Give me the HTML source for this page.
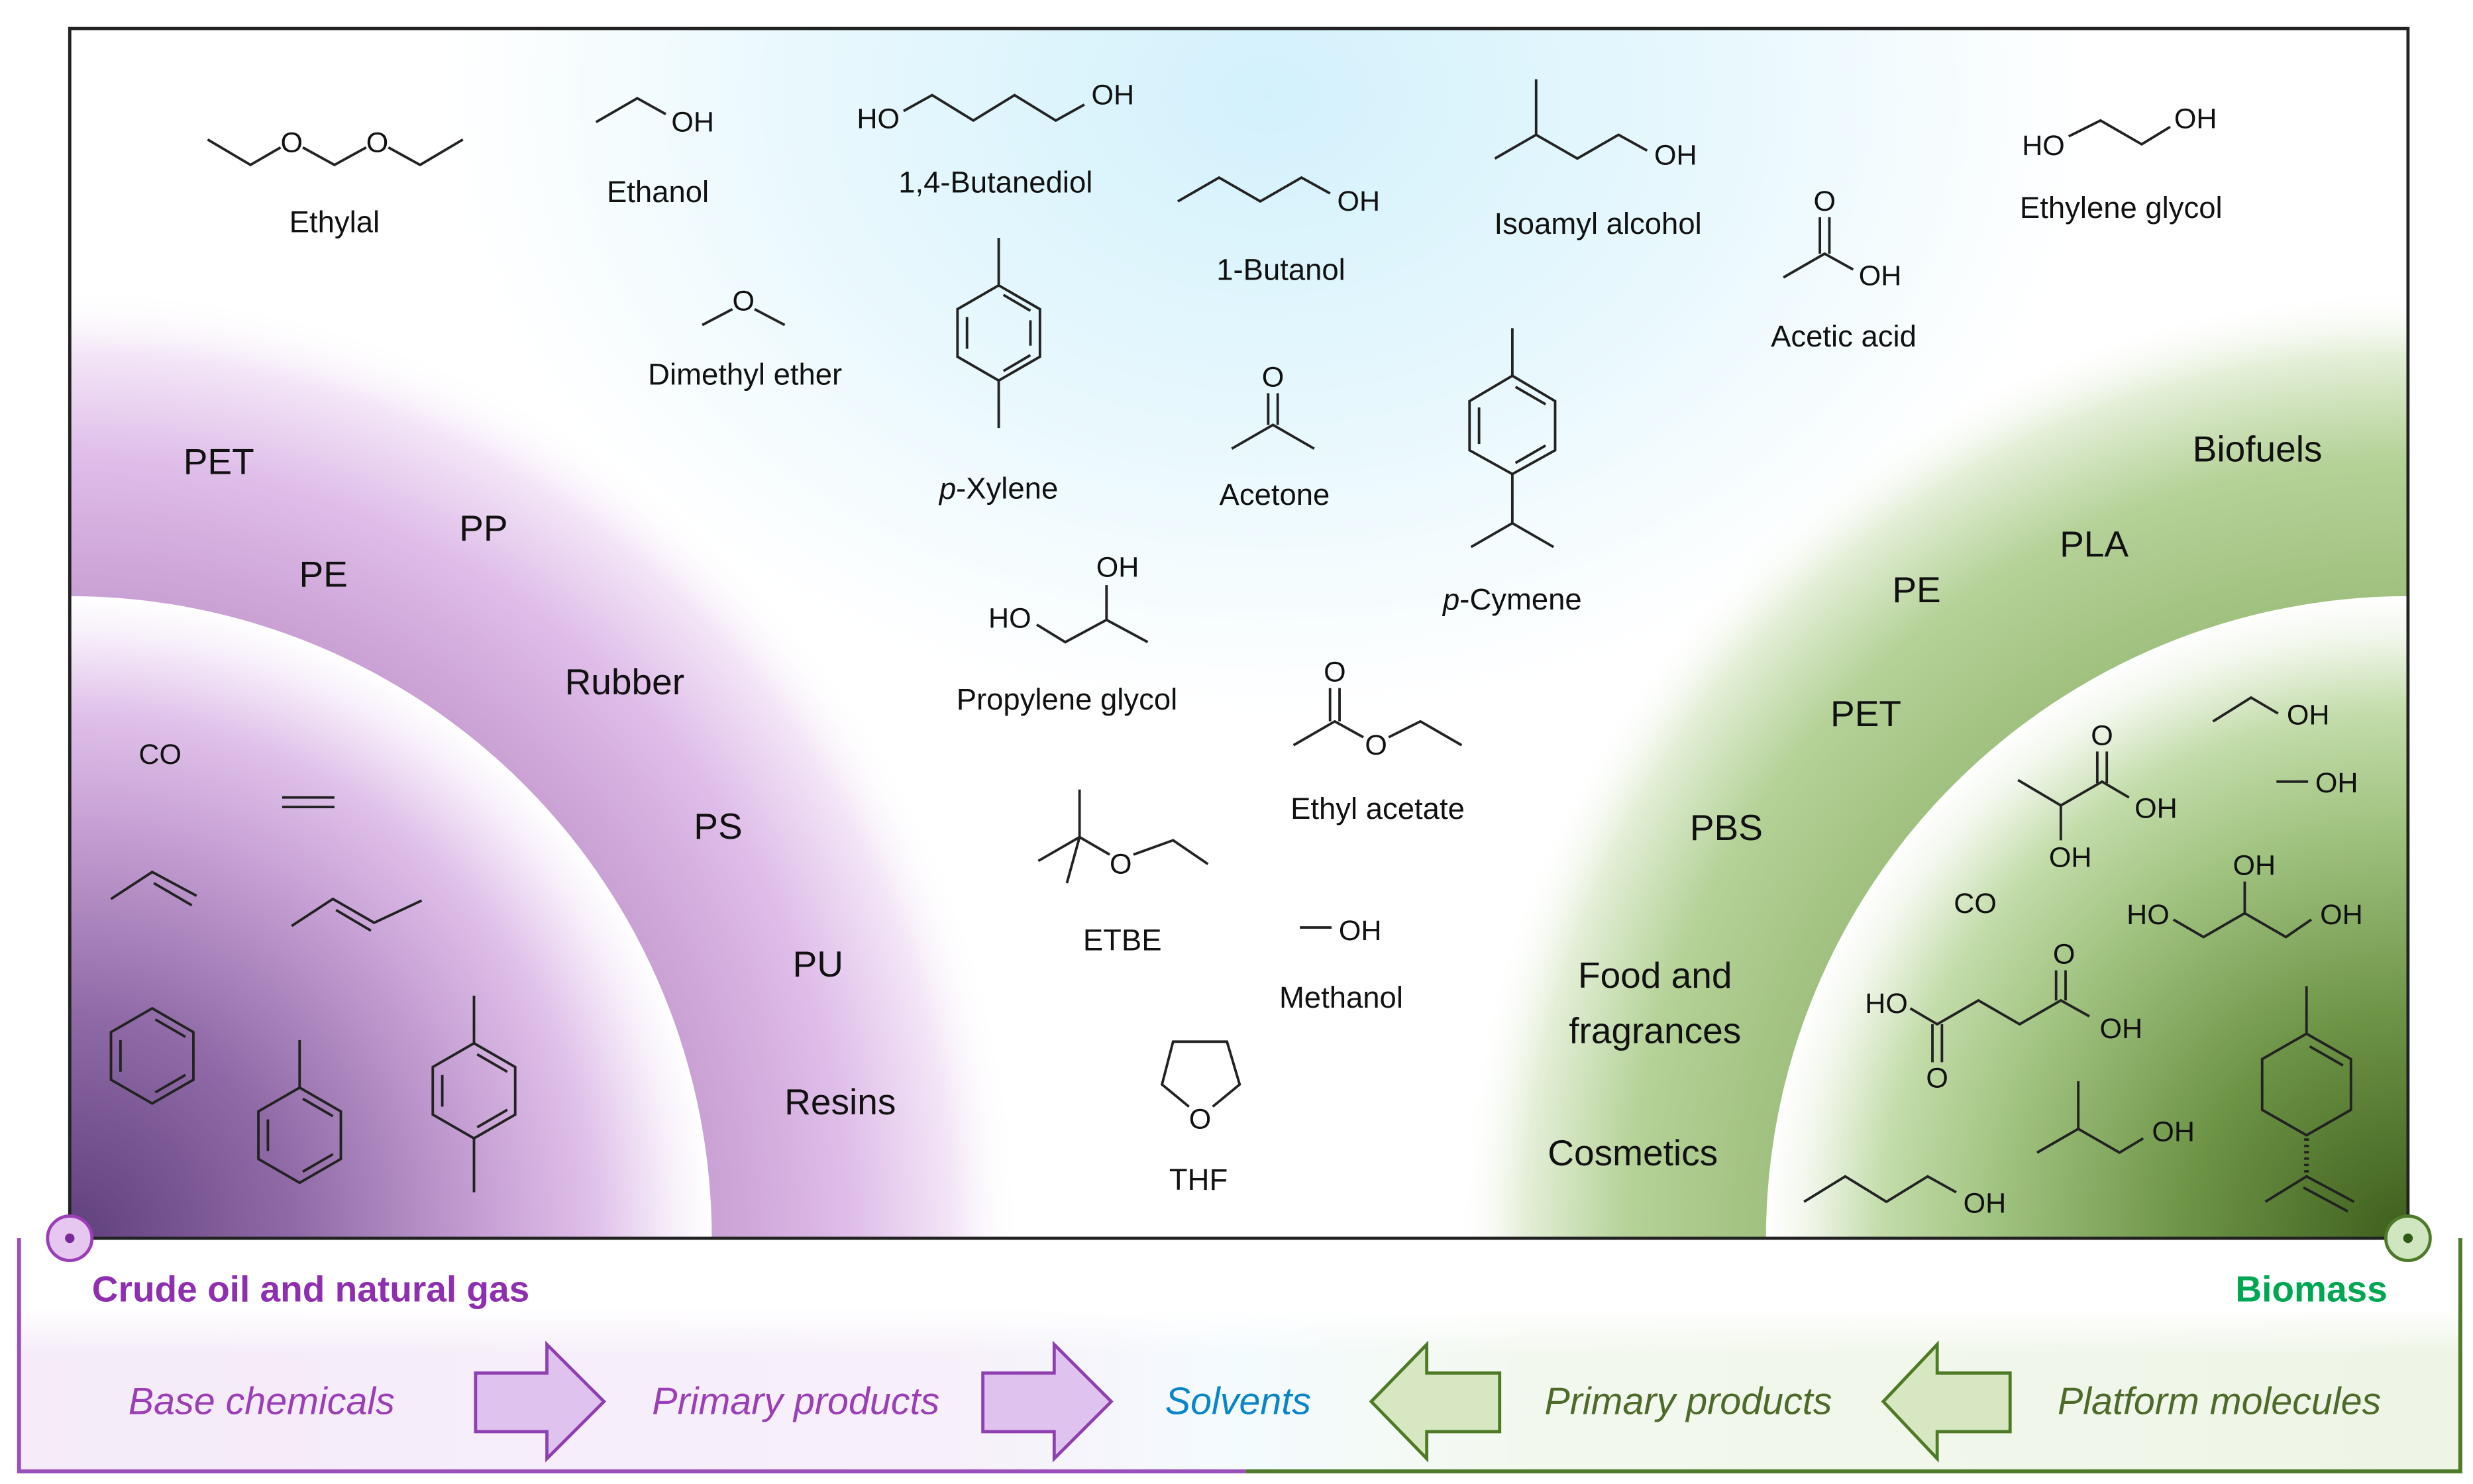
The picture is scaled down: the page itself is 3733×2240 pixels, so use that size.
<!DOCTYPE html>
<html><head><meta charset="utf-8"><style>
html,body{margin:0;padding:0;background:#fff;width:3733px;height:2240px;overflow:hidden;}
svg{display:block;position:absolute;left:0;top:0;}
text{font-family:"Liberation Sans",sans-serif;dominant-baseline:central;text-anchor:middle;fill:#111;}
.l{font-size:19px;}
.p{font-size:23px;}
.a{font-size:18px;}
.m{fill:none;stroke:#222;stroke-width:1.6;}
</style></head><body>
<svg width="3733" height="2240" viewBox="0 0 1560 936" preserveAspectRatio="none" xmlns="http://www.w3.org/2000/svg">
<defs>
<clipPath id="cf"><rect x="44" y="18" width="1475" height="763"/></clipPath>
<radialGradient id="blue" cx="800" cy="60" r="520" gradientUnits="userSpaceOnUse" gradientTransform="translate(800 60) scale(1 0.75) translate(-800 -60)">
<stop offset="0" stop-color="#d3f1fc"/><stop offset="0.55" stop-color="#e8f8fd"/><stop offset="1" stop-color="#fff"/></radialGradient>
<radialGradient id="po" cx="44" cy="781" r="600" gradientUnits="userSpaceOnUse">
<stop offset="0.67" stop-color="#c9a0d3"/><stop offset="0.82" stop-color="#dfbde9"/><stop offset="0.93" stop-color="#f3e6f7"/><stop offset="1" stop-color="#fff" stop-opacity="0"/></radialGradient>
<radialGradient id="pi" cx="44" cy="781" r="405" gradientUnits="userSpaceOnUse">
<stop offset="0" stop-color="#5f3f7c"/><stop offset="0.35" stop-color="#8f6aa6"/><stop offset="0.65" stop-color="#c7a1d5"/><stop offset="0.82" stop-color="#e0c1ea"/><stop offset="0.94" stop-color="#f7effa"/><stop offset="1" stop-color="#fff"/></radialGradient>
<radialGradient id="go" cx="1519" cy="781" r="600" gradientUnits="userSpaceOnUse">
<stop offset="0.67" stop-color="#9fc07e"/><stop offset="0.82" stop-color="#b5d298"/><stop offset="0.93" stop-color="#e4efd8"/><stop offset="1" stop-color="#fff" stop-opacity="0"/></radialGradient>
<radialGradient id="gi" cx="1519" cy="781" r="405" gradientUnits="userSpaceOnUse">
<stop offset="0" stop-color="#3d5e1c"/><stop offset="0.35" stop-color="#6d9446"/><stop offset="0.65" stop-color="#a2c482"/><stop offset="0.82" stop-color="#c3dcaa"/><stop offset="0.94" stop-color="#f2f7ec"/><stop offset="1" stop-color="#fff"/></radialGradient>
<linearGradient id="bot" x1="0" y1="0" x2="1" y2="0">
<stop offset="0" stop-color="#f5ebf9"/><stop offset="0.38" stop-color="#f7f0fa"/><stop offset="0.5" stop-color="#f4fbfe"/><stop offset="0.62" stop-color="#f3f8ee"/><stop offset="1" stop-color="#eef5e6"/></linearGradient>
<linearGradient id="botv" x1="0" y1="0" x2="0" y2="1">
<stop offset="0" stop-color="#fff"/><stop offset="0.3" stop-color="#fff"/><stop offset="0.5" stop-color="#fff" stop-opacity="0"/></linearGradient>
</defs>

<rect x="12" y="781" width="1540" height="147" fill="url(#bot)"/>
<rect x="12" y="781" width="1540" height="147" fill="url(#botv)"/>
<path d="M12 781 V928 H786" fill="none" stroke="#9a50b8" stroke-width="2.5"/>
<path d="M786 928 H1552 V781" fill="none" stroke="#4f7a2a" stroke-width="2.5"/>

<g clip-path="url(#cf)">
<rect x="44" y="18" width="1475" height="763" fill="#fff"/>
<rect x="44" y="18" width="1475" height="763" fill="url(#blue)"/>
<circle cx="44" cy="781" r="600" fill="url(#po)"/>
<circle cx="44" cy="781" r="405" fill="url(#pi)"/>
<circle cx="1519" cy="781" r="600" fill="url(#go)"/>
<circle cx="1519" cy="781" r="405" fill="url(#gi)"/>
</g>
<rect x="44" y="18" width="1475" height="763" fill="none" stroke="#222" stroke-width="2"/>

<circle cx="44" cy="781" r="14" fill="#e6c7f0" stroke="#9a3fb5" stroke-width="2"/>
<circle cx="44" cy="781" r="3" fill="#7a2a98"/>
<circle cx="1519" cy="781" r="14" fill="#cfe6c0" stroke="#4f7a2a" stroke-width="2"/>
<circle cx="1519" cy="781" r="3" fill="#2e5a14"/>

<g fill="#e0c2ee" stroke="#8e3fb0" stroke-width="2">
<path d="M300 866 H345 V848 L381 884 L345 920 V903 H300 Z"/>
<path d="M620 866 H665 V848 L701 884 L665 920 V903 H620 Z"/>
</g>
<g fill="#d6e7c2" stroke="#4e7a26" stroke-width="2">
<path d="M946 866 H900 V848 L865 884 L900 920 V903 H946 Z"/>
<path d="M1268 866 H1222 V848 L1188 884 L1222 920 V903 H1268 Z"/>
</g>

<text x="58" y="813" style="text-anchor:start;font-size:23px;font-weight:bold;fill:#8e2fb0">Crude oil and natural gas</text>
<text x="1506" y="813" style="text-anchor:end;font-size:23px;font-weight:bold;fill:#00a651">Biomass</text>
<g style="font-size:24px;font-style:italic">
<text x="165" y="884" style="fill:#9a3fb5">Base chemicals</text>
<text x="502" y="884" style="fill:#9a3fb5">Primary products</text>
<text x="781" y="884" style="fill:#0a86c8">Solvents</text>
<text x="1065" y="884" style="fill:#4e6a2a">Primary products</text>
<text x="1400" y="884" style="fill:#4e6a2a">Platform molecules</text>
</g>

<g>
<text class="p" x="138" y="291">PET</text>
<text class="p" x="305" y="333">PP</text>
<text class="p" x="204" y="362">PE</text>
<text class="p" x="394" y="430">Rubber</text>
<text class="p" x="453" y="521">PS</text>
<text class="p" x="516" y="608">PU</text>
<text class="p" x="530" y="695">Resins</text>
<text class="p" x="1424" y="283">Biofuels</text>
<text class="p" x="1321" y="343">PLA</text>
<text class="p" x="1209" y="372">PE</text>
<text class="p" x="1177" y="450">PET</text>
<text class="p" x="1089" y="522">PBS</text>
<text class="p" x="1044" y="615">Food and</text>
<text class="p" x="1044" y="650">fragrances</text>
<text class="p" x="1030" y="727">Cosmetics</text>
</g>

<polyline class="m" points="131,88 158,104 177,93"/><text class="a" x="184" y="90">O</text>
<polyline class="m" points="191,93 211,104 231,93"/><text class="a" x="238" y="90">O</text>
<polyline class="m" points="245,93 265,104 292,88"/>
<text class="l" x="211" y="140">Ethylal</text>

<polyline class="m" points="376,77 402,62 420,72"/><text class="a" x="437" y="77">OH</text>
<text class="l" x="415" y="121">Ethanol</text>

<text class="a" x="554" y="75">HO</text>
<polyline class="m" points="570,70 588,60 614,76 640,60 666,76 684,66"/><text class="a" x="702" y="60">OH</text>
<text class="l" x="628" y="115">1,4-Butanediol</text>

<polyline class="m" points="743,127 769,112 795,127 821,112 839,122"/><text class="a" x="857" y="127">OH</text>
<text class="l" x="808" y="170">1-Butanol</text>

<line class="m" x1="969" y1="50" x2="969" y2="85"/>
<polyline class="m" points="943,100 969,85 995,100 1021,85 1039,95"/><text class="a" x="1057" y="98">OH</text>
<text class="l" x="1008" y="141">Isoamyl alcohol</text>

<text class="a" x="1151" y="127">O</text>
<line class="m" x1="1148" y1="137" x2="1148" y2="160"/><line class="m" x1="1154" y1="137" x2="1154" y2="160"/>
<polyline class="m" points="1125,175 1151,160 1169,170"/><text class="a" x="1186" y="174">OH</text>
<text class="l" x="1163" y="212">Acetic acid</text>

<text class="a" x="1289" y="92">HO</text>
<polyline class="m" points="1305,86 1325,76 1351,91 1369,80"/><text class="a" x="1385" y="75">OH</text>
<text class="l" x="1338" y="131">Ethylene glycol</text>

<polyline class="m" points="443,205 462,195"/><text class="a" x="469" y="190">O</text><polyline class="m" points="476,195 495,205"/>
<text class="l" x="470" y="236">Dimethyl ether</text>

<polygon class="m" points="630,180 656,195 656,225 630,240 604,225 604,195"/>
<line class="m" x1="633" y1="186" x2="650" y2="196"/><line class="m" x1="650" y1="202" x2="650" y2="218"/><line class="m" x1="610" y1="200" x2="610" y2="220"/><line class="m" x1="633" y1="234" x2="650" y2="224"/>
<line class="m" x1="630" y1="150" x2="630" y2="180"/><line class="m" x1="630" y1="240" x2="630" y2="270"/>
<text class="l" x="630" y="308"><tspan font-style="italic">p</tspan>-Xylene</text>

<text class="a" x="803" y="238">O</text>
<line class="m" x1="800" y1="248" x2="800" y2="268"/><line class="m" x1="806" y1="248" x2="806" y2="268"/>
<polyline class="m" points="777,283 803,268 829,283"/>
<text class="l" x="804" y="312">Acetone</text>

<polygon class="m" points="954,237 981,253 981,284 954,299 927,284 927,253"/>
<line class="m" x1="933" y1="257" x2="933" y2="280"/><line class="m" x1="956" y1="244" x2="975" y2="255"/><line class="m" x1="956" y1="292" x2="975" y2="281"/>
<line class="m" x1="954" y1="207" x2="954" y2="237"/><line class="m" x1="954" y1="299" x2="954" y2="330"/>
<polyline class="m" points="928,345 954,330 980,345"/>
<text class="l" x="954" y="378"><tspan font-style="italic">p</tspan>-Cymene</text>

<text class="a" x="705" y="358">OH</text>
<line class="m" x1="698" y1="369" x2="698" y2="391"/>
<text class="a" x="637" y="390">HO</text>
<polyline class="m" points="654,394 672,405 698,391 724,405"/>
<text class="l" x="673" y="441">Propylene glycol</text>

<text class="a" x="842" y="424">O</text>
<line class="m" x1="839" y1="434" x2="839" y2="455"/><line class="m" x1="845" y1="434" x2="845" y2="455"/>
<polyline class="m" points="816,470 842,455 860,465"/><text class="a" x="868" y="470">O</text>
<polyline class="m" points="876,465 896,455 922,470"/>
<text class="l" x="869" y="510">Ethyl acetate</text>

<line class="m" x1="681" y1="498" x2="681" y2="528"/>
<line class="m" x1="655" y1="543" x2="681" y2="528"/>
<line class="m" x1="673" y1="557" x2="681" y2="528"/>
<line class="m" x1="681" y1="528" x2="700" y2="539"/><text class="a" x="707" y="545">O</text>
<polyline class="m" points="715,539 740,530 762,545"/>
<text class="l" x="708" y="593">ETBE</text>

<line class="m" x1="820" y1="585" x2="840" y2="585"/><text class="a" x="858" y="587">OH</text>
<text class="l" x="846" y="629">Methanol</text>

<polyline class="m" points="750,698 733,684 740,657 774,657 782,684 765,698"/>
<text class="a" x="757" y="706">O</text>
<text class="l" x="756" y="744">THF</text>

<text class="a" x="101" y="476">CO</text>
<line class="m" x1="178" y1="503" x2="211" y2="503"/><line class="m" x1="178" y1="509" x2="211" y2="509"/>
<polyline class="m" points="70,567 96,550 124,565"/><line class="m" x1="97" y1="557" x2="121" y2="571"/>
<polyline class="m" points="184,584 210,567 236,582 266,568"/><line class="m" x1="212" y1="574" x2="234" y2="587"/>
<polygon class="m" points="96,636 122,651 122,681 96,696 70,681 70,651"/>
<line class="m" x1="98" y1="643" x2="117" y2="654"/><line class="m" x1="76" y1="656" x2="76" y2="676"/><line class="m" x1="98" y1="689" x2="117" y2="678"/>
<polygon class="m" points="189,686 215,701 215,731 189,746 163,731 163,701"/>
<line class="m" x1="191" y1="693" x2="210" y2="704"/><line class="m" x1="169" y1="706" x2="169" y2="726"/><line class="m" x1="191" y1="739" x2="210" y2="728"/>
<line class="m" x1="189" y1="656" x2="189" y2="686"/>
<polygon class="m" points="299,658 325,673 325,703 299,718 273,703 273,673"/>
<line class="m" x1="301" y1="665" x2="320" y2="676"/><line class="m" x1="279" y1="678" x2="279" y2="698"/><line class="m" x1="301" y1="711" x2="320" y2="700"/>
<line class="m" x1="299" y1="628" x2="299" y2="658"/><line class="m" x1="299" y1="718" x2="299" y2="752"/>

<polyline class="m" points="1396,455 1420,440 1437,450"/><text class="a" x="1456" y="451">OH</text>
<line class="m" x1="1436" y1="493" x2="1456" y2="493"/><text class="a" x="1474" y="494">OH</text>
<text class="a" x="1326" y="464">O</text>
<line class="m" x1="1323" y1="474" x2="1323" y2="494"/><line class="m" x1="1329" y1="474" x2="1329" y2="494"/>
<polyline class="m" points="1273,492 1300,508 1326,493 1343,503"/><text class="a" x="1360" y="510">OH</text>
<line class="m" x1="1300" y1="508" x2="1300" y2="530"/><text class="a" x="1306" y="541">OH</text>
<text class="a" x="1246" y="570">CO</text>
<text class="a" x="1355" y="577">HO</text>
<polyline class="m" points="1371,580 1390,591 1416,576 1442,591 1458,580"/><text class="a" x="1477" y="577">OH</text>
<line class="m" x1="1416" y1="576" x2="1416" y2="556"/><text class="a" x="1422" y="546">OH</text>
<text class="a" x="1190" y="633">HO</text>
<polyline class="m" points="1205,636 1222,646 1248,631 1274,646 1300,631 1318,641"/><text class="a" x="1338" y="649">OH</text>
<line class="m" x1="1219" y1="646" x2="1219" y2="670"/><line class="m" x1="1225" y1="646" x2="1225" y2="670"/><text class="a" x="1222" y="680">O</text>
<line class="m" x1="1297" y1="631" x2="1297" y2="612"/><line class="m" x1="1303" y1="631" x2="1303" y2="612"/><text class="a" x="1302" y="602">O</text>
<line class="m" x1="1311" y1="682" x2="1311" y2="712"/>
<polyline class="m" points="1285,727 1311,712 1337,727 1352,718"/><text class="a" x="1371" y="714">OH</text>
<polyline class="m" points="1138,758 1164,742 1190,758 1216,742 1234,752"/><text class="a" x="1252" y="759">OH</text>
<polygon class="m" points="1455,652 1483,668 1483,700 1455,716 1427,700 1427,668"/>
<line class="m" x1="1457" y1="660" x2="1478" y2="672"/>
<line class="m" x1="1455" y1="622" x2="1455" y2="652"/>
<line x1="1455" y1="718" x2="1455" y2="742" stroke="#222" stroke-width="3" stroke-dasharray="1.5 2.5"/>
<polyline class="m" points="1429,758 1455,742 1485,758"/><line class="m" x1="1453" y1="749" x2="1481" y2="764"/>

</svg>
</body></html>
